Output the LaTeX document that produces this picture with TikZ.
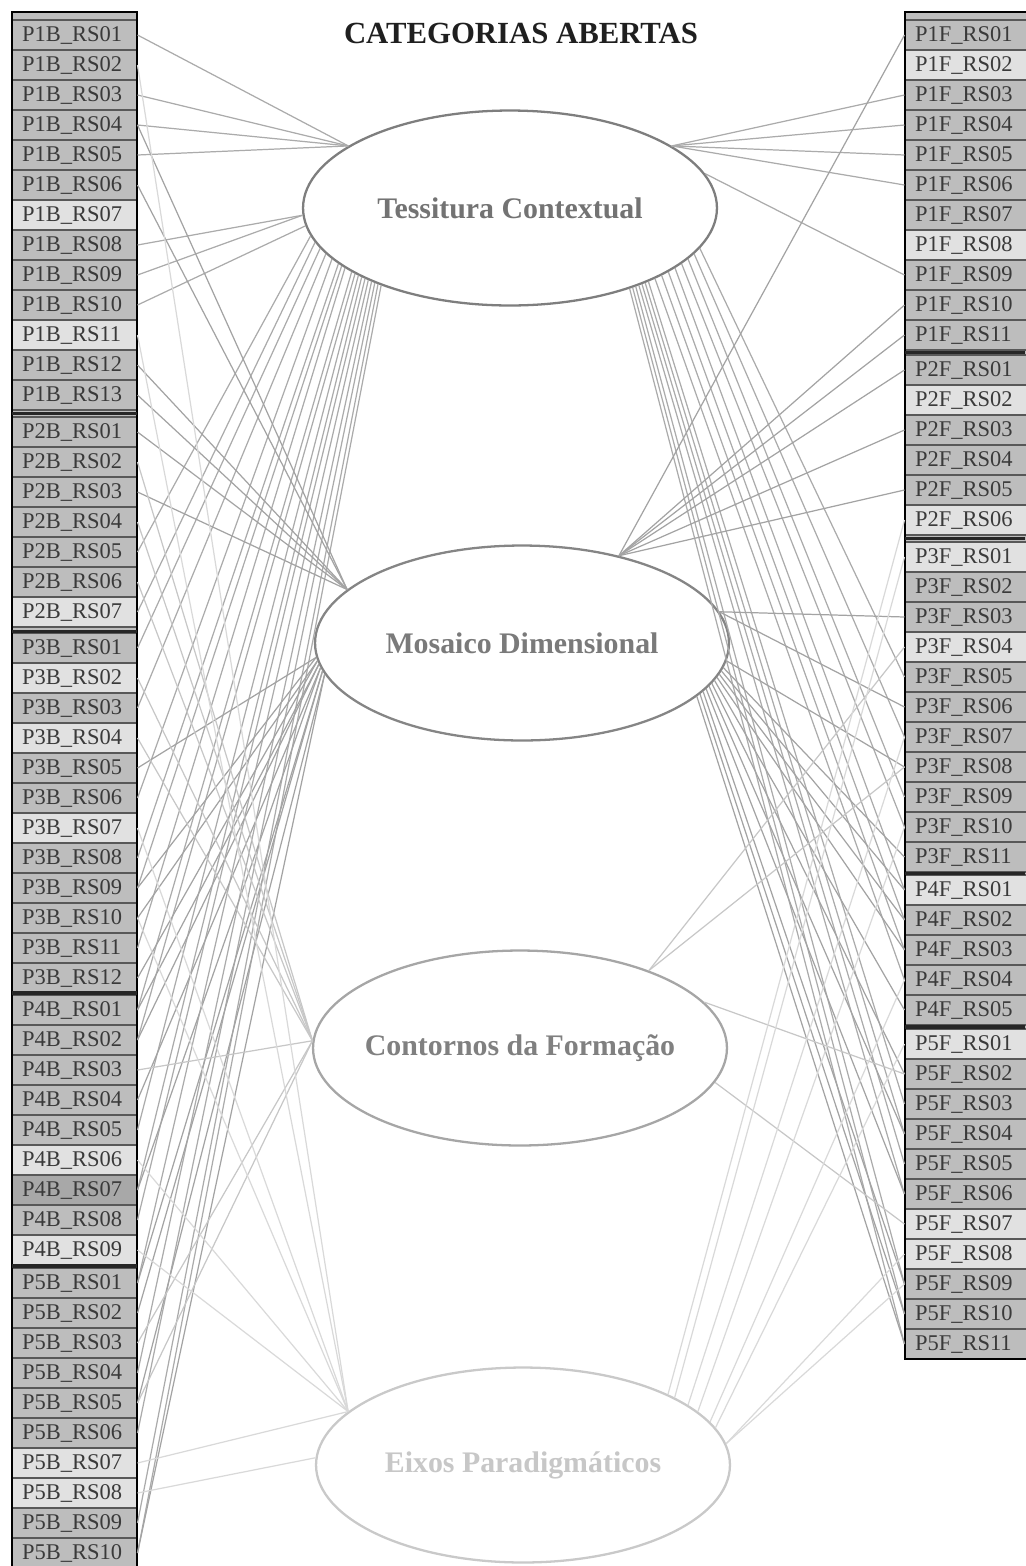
\documentclass[tikz,border=0pt]{standalone}
\usepackage{fontspec}
\setmainfont{Liberation Serif}
\usetikzlibrary{shapes.geometric}
\definecolor{RowGray}{HTML}{BDBDBD}
\definecolor{RowLight}{HTML}{E1E1E1}
\definecolor{RowDark}{HTML}{A8A8A8}
\definecolor{RowInk}{HTML}{3A3A3A}
\definecolor{TessLine}{HTML}{7E7E7E}
\definecolor{MosLine}{HTML}{858585}
\definecolor{ContLine}{HTML}{A6A6A6}
\definecolor{EixLine}{HTML}{C9C9C9}

\begin{document}
\begin{tikzpicture}[x=0.02cm,y=-0.02cm,every node/.style={text=RowInk},
 rowbox/.style={rectangle,draw=RowInk!85,line width=0.6pt,minimum height=0.6cm,text width=2.1cm,inner xsep=0.2cm,inner ysep=0pt,align=left,font=\fontsize{12.8}{13}\selectfont},
 shadeN/.style={fill=RowGray},shadeL/.style={fill=RowLight},shadeD/.style={fill=RowDark},
 groupline/.style={line width=2.2pt,draw=black!85},
 category/.style={ellipse,line width=1.3pt,fill=white,minimum width=8.28cm,minimum height=3.9cm,inner sep=0pt,font=\bfseries\fontsize{17}{20}\selectfont},
 tclink/.style={line width=0.7pt,draw=black!33},mdlink/.style={line width=0.7pt,draw=black!36},
 cflink/.style={line width=0.7pt,draw=black!22},eplink/.style={line width=0.7pt,draw=black!15}]
\useasboundingbox (0,0) rectangle (1025,1566);

\node[font=\bfseries\fontsize{17.5}{20}\selectfont,text=black!88] (title) at (521,33) {CATEGORIAS ABERTAS};

% columns of units
\fill[RowGray] (12,12) rectangle (137,1570); \fill[RowGray] (905,12) rectangle (1030,1359);
\foreach \g/\s/\list in {1/20/{N,N,N,N,N,N,L,N,N,N,L,N,N},2/417/{N,N,N,N,N,N,L},3/633/{N,L,N,L,N,N,L,N,N,N,N,N},4/995/{N,N,N,N,N,L,D,N,L},5/1268/{N,N,N,N,N,N,L,L,N,N}}
  \foreach \t [count=\i] in \list
    \node[rowbox,shade\t] (b\g-\i) at (74.5,\s+30*\i-15) {P\g B\_RS\ifnum\i<10 0\fi\i};
\foreach \g/\s/\list in {1/20/{N,L,N,N,N,N,N,L,N,N,N},2/355/{N,L,N,N,N,L},3/542/{L,N,N,L,N,N,N,N,N,N,N},4/875/{L,N,N,N,N},5/1029/{L,N,N,N,N,N,L,L,N,N,N}}
  \foreach \t [count=\i] in \list
    \node[rowbox,shade\t] (f\g-\i) at (967.5,\s+30*\i-15) {P\g F\_RS\ifnum\i<10 0\fi\i};
\draw[line width=1.2pt] (12,12) rectangle (137,1570); \draw[line width=1.2pt] (905,12) rectangle (1030,1359);
\foreach \y in {413.5,631.5,993,1266} \draw[groupline] (12,\y) -- (137,\y);
\foreach \y in {352.5,538.5,873.5,1027} \draw[groupline] (905,\y) -- (1025,\y);

% categories
\node[category,draw=TessLine,text=black!55] (tc) at (510,208) {\makebox[0pt]{Tessitura Contextual}};
\node[category,draw=MosLine,text=black!52] (md) at (522,643) {\makebox[0pt]{Mosaico Dimensional}};
\node[category,draw=ContLine,text=black!50] (cf) at (520,1048) {\makebox[0pt]{Contornos da Formação}};
\node[category,draw=EixLine,text=black!22] (ep) at (523,1465) {\makebox[0pt]{Eixos Paradigmáticos}};

% links
\foreach \b/\a in {b1-1/159,b1-3/159,b1-4/159,b1-5/159,b1-8/182,b1-9/182,b1-10/185,b2-5/188,b2-7/190,b3-1/192,b3-3/194,b3-6/196,b3-8/198,b3-9/199,b3-11/200,b4-1/202,b4-2/203,b4-5/204,b4-7/205,b4-8/206,b5-1/207,b5-4/208,b5-6/209,b5-9/210,b5-10/211}
  \draw[tclink] (\b.east) -- (tc.\a);
\foreach \f/\a in {f1-3/21,f1-4/21,f1-5/21,f1-6/21,f1-9/10,f3-5/348,f3-7/346,f3-9/344,f3-10/342,f4-1/340,f4-2/338,f4-3/336,f4-4/334,f5-3/332,f5-4/331,f5-5/330,f5-6/329,f5-9/328,f5-10/327,f5-11/326}
  \draw[tclink] (\f.west) -- (tc.\a);
\foreach \b/\a in {b1-4/163,b1-6/163,b1-12/163,b1-13/163,b2-1/163,b2-3/163,b3-5/184,b3-9/184,b3-10/185,b3-12/185,b4-1/186,b4-2/186,b4-4/187,b4-7/187,b5-1/188,b5-2/188,b5-5/189,b5-10/189}
  \draw[mdlink] (\b.east) -- (md.\a);
\foreach \f/\a in {f1-1/42,f1-10/42,f1-11/42,f2-1/42,f2-3/42,f2-5/42,f3-3/9,f3-6/9,f3-8/355,f3-11/353,f4-1/352,f4-2/351,f4-3/350,f4-5/349,f5-2/348,f5-4/347,f5-6/346,f5-9/345,f5-10/344,f5-11/343}
  \draw[mdlink] (\f.west) -- (md.\a);
\foreach \b in {b2-2,b2-4,b2-6,b3-2,b3-4,b4-3,b5-3,b5-5} \draw[cflink] (\b.east) -- (cf.178);
\foreach \f/\a in {f3-4/31,f3-8/31,f5-2/14,f5-7/350} \draw[cflink] (\f.west) -- (cf.\a);
\foreach \b/\a in {b1-2/163,b1-11/163,b3-7/163,b3-10/163,b4-6/163,b4-9/163,b5-7/163,b5-8/178} \draw[eplink] (\b.east) -- (ep.\a);
\foreach \f/\a in {f2-6/26,f3-1/24,f3-7/20,f3-10/17,f4-4/13,f5-1/11,f5-8/6,f5-9/6} \draw[eplink] (\f.west) -- (ep.\a);

\end{tikzpicture}
\end{document}
